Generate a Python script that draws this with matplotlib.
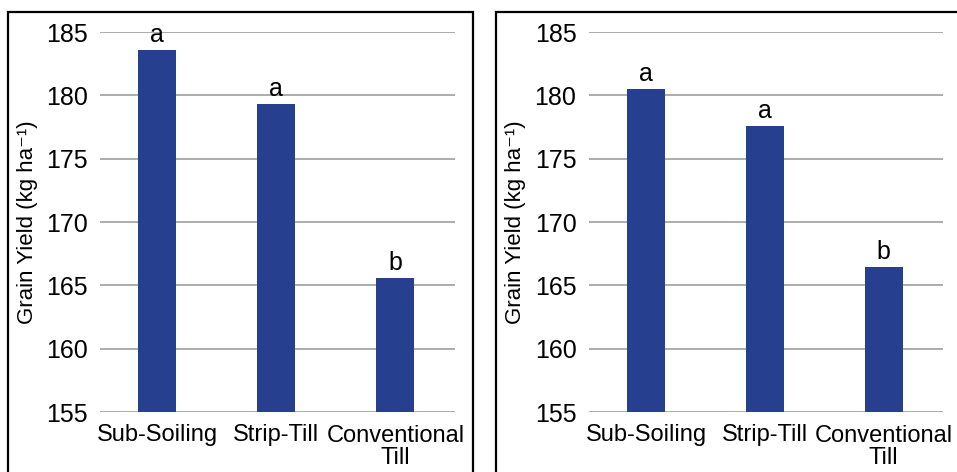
import numpy as np
import matplotlib.pyplot as plt
from matplotlib.patches import Rectangle

# treatments and yields
treatments = ["Sub-Soiling", "Strip-Till", "Conventional\nTill"]
yield_left = [183.6, 179.3, 165.6]
yield_right = [180.5, 177.6, 166.45]
letters_left = ["a", "a", "b"]
letters_right = ["a", "a", "b"]
yticks = [155, 160, 165, 170, 175, 180, 185]

plt.rcParams['font.family'] = ['Liberation Sans', 'DejaVu Sans']

W, H = 957, 472
fig = plt.figure(figsize=(W/100, H/100), dpi=100)

def px_axes(x0, x1, ytop, ybot):
    return fig.add_axes([x0/W, (H-ybot)/H, (x1-x0)/W, (ybot-ytop)/H])

def panel(ax, vals, letters):
    xpos = np.arange(len(treatments))
    ax.bar(xpos, vals, width=0.32, color="#26408f", zorder=2)
    for xi, v, l in zip(xpos, vals, letters):
        ax.annotate(l, (xi, v), xytext=(0, 2), textcoords="offset points",
                    ha="center", va="bottom", fontsize=18)
    ax.set_ylim(155, 185)
    ax.set_xlim(-0.48, 2.5)
    ax.set_yticks(yticks)
    ax.set_xticks(xpos)
    ax.set_xticklabels(treatments, fontsize=17, linespacing=1.0)
    ax.tick_params(axis="y", labelsize=18, length=0, pad=9)
    ax.tick_params(axis="x", length=0, pad=9)
    ax.grid(axis="y", color="#a6a6a6", linewidth=1.3, zorder=0)
    for s in ax.spines.values():
        s.set_visible(False)
    ax.set_ylabel("Grain Yield (kg ha\u207b\u00b9)", fontsize=16)

ax1 = px_axes(100, 455, 32, 412)
panel(ax1, yield_left, letters_left)
ax1.yaxis.set_label_coords(-0.175, 0.5)

ax2 = px_axes(589, 943, 32, 412)
panel(ax2, yield_right, letters_right)
ax2.yaxis.set_label_coords(-0.178, 0.5)

# black frames round each panel
fig.patches.append(Rectangle((8/W, -0.05), 465/W, 1.05 - 12/H, transform=fig.transFigure,
                             fill=False, edgecolor="black", linewidth=1.6))
fig.patches.append(Rectangle((496/W, -0.05), 0.6, 1.05 - 12/H, transform=fig.transFigure,
                             fill=False, edgecolor="black", linewidth=1.6))

fig.savefig("out.png", dpi=100)
